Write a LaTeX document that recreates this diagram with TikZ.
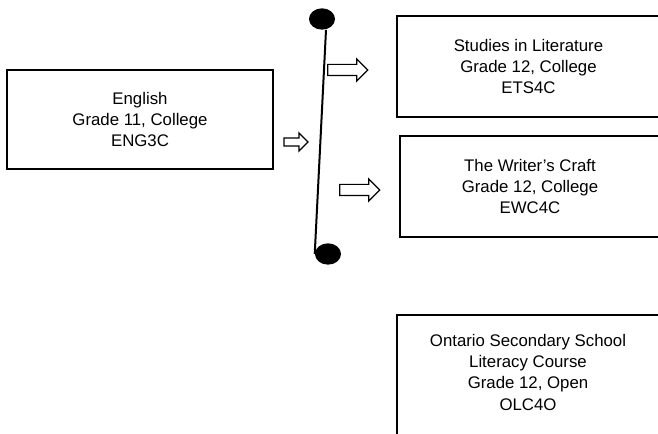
\documentclass[tikz,border=0pt]{standalone}
\usepackage{fontspec}
\setmainfont{Liberation Sans}
\usetikzlibrary{shapes.geometric,shapes.arrows}

\tikzset{
  course/.style={draw, line width=1.2pt, align=center, inner sep=0pt,
    font=\fontsize{12.6pt}{16pt}\selectfont},
  coursetext/.style={align=center, inner sep=0pt,
    font=\fontsize{12.6pt}{16pt}\selectfont},
  dot/.style={ellipse, fill=black, inner sep=0pt, minimum width=19.5pt, minimum height=16pt},
  blockarrow/.style={single arrow, draw, line width=0.9pt, fill=white, inner xsep=0pt,
    inner ysep=3.75pt, single arrow head extend=4.1pt, minimum height=30pt}
}

\begin{document}
\begin{tikzpicture}[x=0.75pt,y=-0.75pt]
	\useasboundingbox (0,0) rectangle (658,434);
	\clip (0,0) rectangle (658,434);
	
	% Corsi
	\node[course, minimum width=199.5pt, minimum height=74.25pt] (eng) at (140,119.5) {English\\Grade 11, College\\ENG3C};
	\node[course, minimum width=197.25pt, minimum height=75.75pt] (ets) at (528.5,66.5) {Studies in Literature\\Grade 12, College\\ETS4C};
	\node[course, minimum width=195pt, minimum height=75.75pt] (ewc) at (530,186.5) {The Writer’s Craft\\Grade 12, College\\EWC4C};
	\node[coursetext] (olc) at (528,372) {Ontario Secondary School\\Literacy Course\\Grade 12, Open\\OLC4O};
	\draw[line width=1.2pt] (397,470) |- (662,315);
	
	% Barra con i due punti
	\node[dot] (dtop) at (322,19) {};
	\node[dot] (dbot) at (328,254) {};
	\draw[line width=1.5pt] ([xshift=3pt]dtop.south) -- (dbot.west);
	
	% Frecce
	\node[blockarrow, minimum height=18pt, inner ysep=2.6pt, single arrow head extend=3.75pt] (arr1) at (294,142) {};
	\node[blockarrow] (arr2) at (345,70) {};
	\node[blockarrow] (arr3) at (357,190) {};
\end{tikzpicture}
\end{document}
